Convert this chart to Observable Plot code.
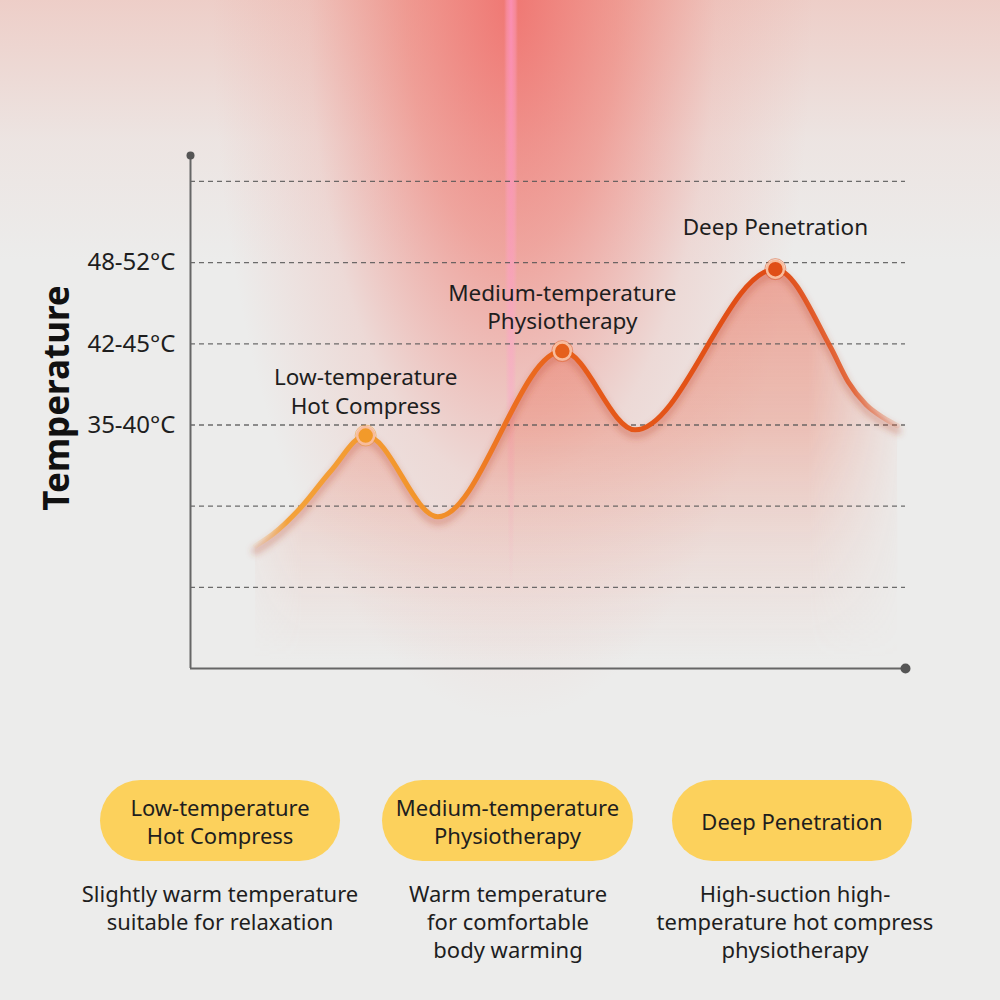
<!DOCTYPE html>
<html>
<head>
<meta charset="utf-8">
<script src="https://cdn.jsdelivr.net/npm/d3@7"></script>
<script src="https://cdn.jsdelivr.net/npm/@observablehq/plot@0.6"></script>
<style>
  html, body { margin: 0; padding: 0; }
  body { width: 1000px; height: 1000px; overflow: hidden; font-family: "Noto Sans", sans-serif; }
  #stage {
    position: relative; width: 1000px; height: 1000px;
    background:
      radial-gradient(ellipse 7px 600px at 511px 0px, rgba(255,150,200,0.75) 0%, rgba(255,160,205,0.4) 60%, rgba(255,160,205,0) 100%),
      radial-gradient(ellipse 300px 720px at 512px 0px, rgba(240,104,100,0.85) 0%, rgba(240,118,108,0.6) 35%, rgba(240,150,140,0.22) 68%, rgba(240,160,150,0) 100%),
      linear-gradient(to bottom, rgba(238,196,188,0.75) 0px, rgba(238,205,198,0.25) 140px, rgba(238,210,205,0) 260px),
      #ececeb;
  }
  #chart { position: absolute; left: 0; top: 0; }
  .pill {
    position: absolute; top: 780px; height: 81px; border-radius: 41px;
    background: #fcd15c; display: flex; align-items: center; justify-content: center;
    text-align: center; white-space: pre-line; font-size: 22px; line-height: 28px; color: #1e1e1e;
  }
  .desc {
    position: absolute; top: 879px; width: 340px; text-align: center; white-space: pre-line;
    font-size: 22px; line-height: 28px; color: #1e1e1e;
  }
</style>
</head>
<body>
<div id="stage"><div id="chart"></div></div>
<script>
// ---- data ----
const curveX     = [9.1, 11.6, 15.4, 19.6, 24.5, 34.6, 52, 62.2, 81.8, 89.5, 92.0, 94.5, 96.9, 98.9];
const curveLevel = [1.51, 1.66, 1.98, 2.43, 2.87, 1.87, 3.91, 2.94, 4.92, 3.96, 3.53, 3.25, 3.09, 2.99];
const peakIndex  = [4, 6, 8];
const peakNames  = ["Low-temperature\nHot Compress", "Medium-temperature\nPhysiotherapy", "Deep Penetration"];
const gridLevels = [1, 2, 3, 4, 5, 6];
const tickLevels = [3, 4, 5];
const tickLabels = ["35-40°C", "42-45°C", "48-52°C"];
const yTitle     = "Temperature";
const cardNames  = ["Low-temperature\nHot Compress", "Medium-temperature\nPhysiotherapy", "Deep Penetration"];
const cardDescs  = ["Slightly warm temperature\nsuitable for relaxation",
                    "Warm temperature\nfor comfortable\nbody warming",
                    "High-suction high-\ntemperature hot compress\nphysiotherapy"];

// ---- build ----
const series = curveX.map((x, i) => ({x, y: curveLevel[i]}));
const peaks = peakIndex.map((k, i) => ({x: curveX[k], y: curveLevel[k], name: peakNames[i]}));
const yMax = 6.32, xMax = 100;
const peakColors = ["#f29a2a", "#e5601c", "#e04e16"];

const defsMark = () => {
  const defs = d3.create("svg:defs");
  const lg = defs.append("linearGradient").attr("id", "lineGrad")
    .attr("x1", 0).attr("x2", 1).attr("y1", 0).attr("y2", 0);
  [[0, "#f6b46a", 0.1], [0.05, "#f4a23a", 1], [0.28, "#f2932a", 1], [0.4, "#ec6e20", 1],
   [0.52, "#e65a1a", 1], [0.8, "#e04c15", 1], [0.93, "#e35a28", 0.85], [1, "#e8704a", 0.15]]
    .forEach(([o, c, a]) => lg.append("stop").attr("offset", o).attr("stop-color", c).attr("stop-opacity", a));
  const ag = defs.append("linearGradient").attr("id", "areaGrad")
    .attr("gradientUnits", "userSpaceOnUse").attr("x1", 0).attr("x2", 0).attr("y1", 260).attr("y2", 660);
  [[0, "#ea7460", 0.6], [0.4, "#eb7e68", 0.42], [0.72, "#ed9280", 0.17], [1, "#efa090", 0]]
    .forEach(([o, c, a]) => ag.append("stop").attr("offset", o).attr("stop-color", c).attr("stop-opacity", a));
  const hg = defs.append("linearGradient").attr("id", "hGrad")
    .attr("gradientUnits", "userSpaceOnUse").attr("x1", 235).attr("x2", 910).attr("y1", 0).attr("y2", 0);
  [[0, 0], [0.1, 1], [0.85, 1], [1, 0]]
    .forEach(([o, a]) => hg.append("stop").attr("offset", o).attr("stop-color", "#fff").attr("stop-opacity", a));
  const m = defs.append("mask").attr("id", "hFade").attr("maskUnits", "userSpaceOnUse")
    .attr("x", 0).attr("y", 0).attr("width", 1000).attr("height", 700);
  m.append("rect").attr("x", 0).attr("y", 0).attr("width", 1000).attr("height", 700).attr("fill", "url(#hGrad)");
  const f = defs.append("filter").attr("id", "soft").attr("x", "-10%").attr("y", "-10%").attr("width", "120%").attr("height", "130%");
  f.append("feGaussianBlur").attr("stdDeviation", 3);
  return defs.node();
};

const chart = Plot.plot({
  width: 1000, height: 700,
  marginLeft: 190, marginRight: 95, marginTop: 155, marginBottom: 32,
  style: {background: "transparent", fontFamily: '"Noto Sans", sans-serif', color: "#1e1e1e", overflow: "visible"},
  x: {domain: [0, xMax], axis: null},
  y: {domain: [0, yMax], axis: null},
  color: {domain: peakNames, range: peakColors},
  marks: [
    defsMark,
    Plot.areaY(series, {x: "x", y: "y", fill: "url(#areaGrad)", curve: "monotone-x"}),
    Plot.ruleY(gridLevels, {stroke: "#555", strokeWidth: 1.3, strokeDasharray: "5,4", strokeOpacity: 0.85}),
    Plot.ruleX([0], {y1: 0, y2: yMax, stroke: "#666", strokeWidth: 2}),
    Plot.ruleY([0], {x1: 0, x2: xMax, stroke: "#666", strokeWidth: 2}),
    Plot.dot([{x: 0, y: yMax}], {x: "x", y: "y", r: 4, fill: "#555"}),
    Plot.dot([{x: xMax, y: 0}], {x: "x", y: "y", r: 5, fill: "#555"}),
    Plot.axisY({ticks: tickLevels, tickFormat: d => tickLabels[tickLevels.indexOf(d)], tickSize: 0, tickPadding: 15, fontSize: 24, label: null, fill: "#1e1e1e"}),
    Plot.text([yTitle], {frameAnchor: "left", textAnchor: "middle", dx: -133, dy: -14, rotate: -90, fontSize: 35, fontWeight: "bold", fill: "#111"}),
    Plot.line(series, {x: "x", y: "y", curve: "monotone-x", stroke: "#b8452a", strokeOpacity: 0.3, strokeWidth: 8, dy: 5}),
    Plot.line(series, {x: "x", y: "y", curve: "monotone-x", stroke: "url(#lineGrad)", strokeWidth: 5}),
    Plot.dot(peaks, {x: "x", y: "y", r: 10.5, fill: "none", stroke: "name", strokeOpacity: 0.5, strokeWidth: 1}),
    Plot.dot(peaks, {x: "x", y: "y", r: 8.5, fill: "name", stroke: "#f8bc9c", strokeWidth: 2.5}),
    Plot.text(peaks.filter(d => d.name.includes("\n")), {x: "x", y: "y", text: "name", lineAnchor: "middle", lineHeight: 1.25, dy: -45, fontSize: 22.5, fill: "#1e1e1e"}),
    Plot.text(peaks.filter(d => !d.name.includes("\n")), {x: "x", y: "y", text: "name", lineAnchor: "middle", dy: -41, fontSize: 22.5, fill: "#1e1e1e"})
  ]
});
const sel = d3.select(chart);
sel.selectAll("g").filter(function() { return this.getAttribute("aria-label") === "area"; })
  .attr("mask", "url(#hFade)");
sel.selectAll("g").filter(function() { return this.getAttribute("aria-label") === "line"; })
  .each(function(_, i) { if (i === 0) d3.select(this).attr("filter", "url(#soft)"); });
document.getElementById("chart").appendChild(chart);

// ---- cards below the chart ----
const stage = document.getElementById("stage");
const pillBoxes = [[100, 240], [382, 251], [672, 240]];
const descCenters = [220, 508, 795];
cardNames.forEach((n, i) => {
  const p = document.createElement("div");
  p.className = "pill";
  p.style.left = pillBoxes[i][0] + "px";
  p.style.width = pillBoxes[i][1] + "px";
  p.textContent = n;
  stage.appendChild(p);
  const d = document.createElement("div");
  d.className = "desc";
  d.style.left = (descCenters[i] - 170) + "px";
  d.textContent = cardDescs[i];
  stage.appendChild(d);
});
</script>
</body>
</html>
